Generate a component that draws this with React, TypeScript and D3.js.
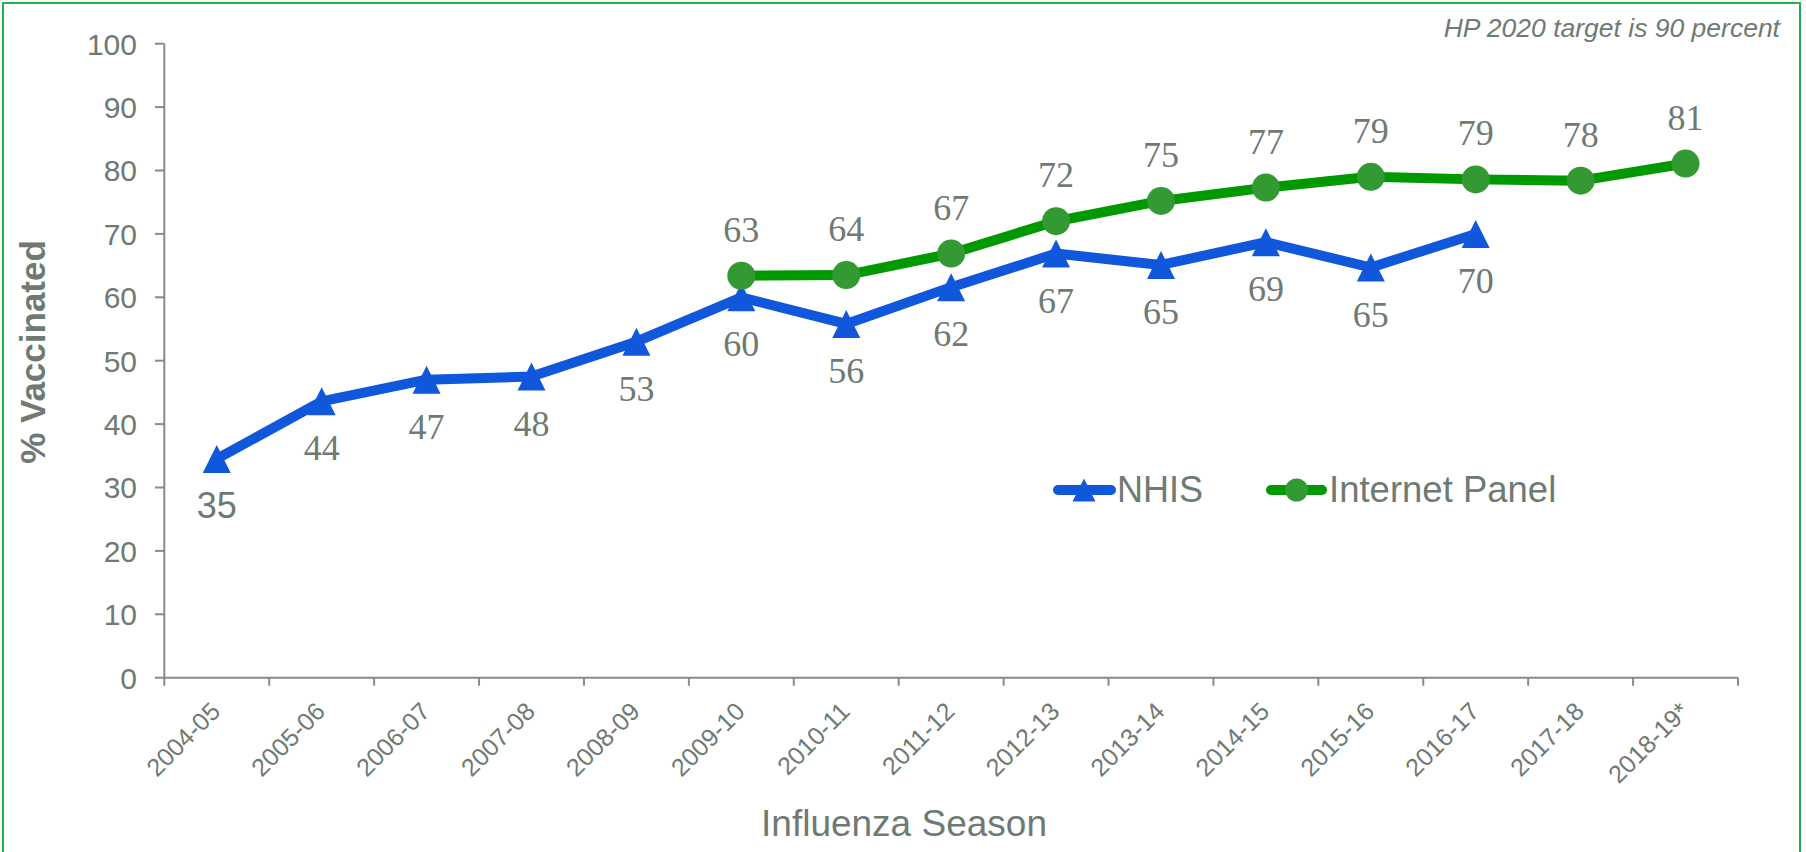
import React from "react";
import * as d3 from "d3";

const seasons = [
  "2004-05", "2005-06", "2006-07", "2007-08", "2008-09", "2009-10", "2010-11",
  "2011-12", "2012-13", "2013-14", "2014-15", "2015-16", "2016-17", "2017-18", "2018-19*",
];
const nhisValues: (number | null)[] = [
  34.5, 43.6, 47.0, 47.5, 53.0, 60.0, 55.8, 61.6, 66.9, 65.1, 68.7, 64.7, 70.0, null, null,
];
const internetValues: (number | null)[] = [
  null, null, null, null, null, 63.4, 63.5, 66.9, 72.0, 75.2, 77.3, 79.0, 78.6, 78.4, 81.1,
];
const yTicks = [0, 10, 20, 30, 40, 50, 60, 70, 80, 90, 100];
const seriesNames = ["NHIS", "Internet Panel"];
const noteText = "HP 2020 target is 90 percent";
const xTitle = "Influenza Season";
const yTitle = "% Vaccinated";

const W = 1806;
const H = 852;
const TEXT = "#6e7a72";
const AXIS = "#858c86";
const BLUE = "#1157db";
const GREEN_LINE = "#009900";
const GREEN_DOT = "#339933";
const SANS = "'Liberation Sans', Arial, sans-serif";
const SERIF = "'Liberation Serif', 'Times New Roman', serif";

function tri(cx: number, cy: number, s: number) {
  const h = s / 2;
  return `M${cx},${cy - h}L${cx + h},${cy + h}L${cx - h},${cy + h}Z`;
}

export default function App() {
  const x = d3.scaleBand<string>().domain(seasons).range([164.3, 1738]).paddingInner(0).paddingOuter(0);
  const y = d3.scaleLinear().domain([0, 100]).range([677.7, 43.7]);
  const cx = (s: string) => (x(s) as number) + x.bandwidth() / 2;

  const nhisPts = seasons
    .map((s, i) => ({ s, v: nhisValues[i] }))
    .filter((d) => d.v !== null) as { s: string; v: number }[];
  const netPts = seasons
    .map((s, i) => ({ s, v: internetValues[i] }))
    .filter((d) => d.v !== null) as { s: string; v: number }[];

  const line = d3
    .line<{ s: string; v: number }>()
    .x((d) => cx(d.s))
    .y((d) => y(d.v));

  const boundaries = d3.range(seasons.length + 1).map((i) => 164.3 + i * x.bandwidth());

  return (
    <svg
      width={W}
      height={H}
      style={{ position: "absolute", left: 0, top: 0, background: "#fff" }}
    >
      <rect x={3} y={3} width={1797} height={860} fill="#fff" stroke="#22b14c" strokeWidth={2} />

      {/* note */}
      <text x={1780} y={37} textAnchor="end" fontFamily={SANS} fontStyle="italic" fontSize={26.5} fill={TEXT}>
        {noteText}
      </text>

      {/* y axis */}
      <line x1={164.3} x2={164.3} y1={y(100)} y2={y(0)} stroke={AXIS} strokeWidth={2} />
      {yTicks.map((t) => (
        <g key={t}>
          <line x1={155} x2={164.3} y1={y(t)} y2={y(t)} stroke={AXIS} strokeWidth={2} />
          <text x={137} y={y(t)} dy="0.36em" textAnchor="end" fontFamily={SANS} fontSize={30} fill={TEXT}>
            {t}
          </text>
        </g>
      ))}

      {/* x axis */}
      <line x1={164.3} x2={1738} y1={y(0)} y2={y(0)} stroke={AXIS} strokeWidth={2} />
      {boundaries.map((b, i) => (
        <line key={i} x1={b} x2={b} y1={y(0)} y2={y(0) + 8} stroke={AXIS} strokeWidth={2} />
      ))}
      {seasons.map((s) => (
        <text
          key={s}
          transform={`translate(${cx(s) + 5},${713}) rotate(-45)`}
          textAnchor="end"
          fontFamily={SANS}
          fontSize={25}
          fill={TEXT}
        >
          {s}
        </text>
      ))}

      {/* axis titles */}
      <text x={904} y={836} textAnchor="middle" fontFamily={SANS} fontSize={37} fill={TEXT}>
        {xTitle}
      </text>
      <text
        transform={`translate(45,352) rotate(-90)`}
        textAnchor="middle"
        fontFamily={SANS}
        fontWeight="bold"
        fontSize={35}
        fill={TEXT}
      >
        {yTitle}
      </text>

      {/* NHIS series */}
      <path d={line(nhisPts) || ""} fill="none" stroke={BLUE} strokeWidth={10} strokeLinejoin="round" />
      {nhisPts.map((d) => (
        <path key={d.s} d={tri(cx(d.s), y(d.v), 28)} fill={BLUE} />
      ))}
      {nhisPts.map((d, i) => (
        <text
          key={d.s}
          x={cx(d.s)}
          y={y(d.v) + 59}
          textAnchor="middle"
          fontFamily={i === 0 ? SANS : SERIF}
          fontSize={36}
          fill={TEXT}
        >
          {Math.round(d.v)}
        </text>
      ))}

      {/* Internet panel series */}
      <path d={line(netPts) || ""} fill="none" stroke={GREEN_LINE} strokeWidth={10} strokeLinejoin="round" />
      {netPts.map((d) => (
        <circle key={d.s} cx={cx(d.s)} cy={y(d.v)} r={14} fill={GREEN_DOT} />
      ))}
      {netPts.map((d) => (
        <text
          key={d.s}
          x={cx(d.s)}
          y={y(d.v) - 34}
          textAnchor="middle"
          fontFamily={SERIF}
          fontSize={36}
          fill={TEXT}
        >
          {Math.round(d.v)}
        </text>
      ))}

      {/* legend */}
      <line x1={1058} x2={1111} y1={490} y2={490} stroke={BLUE} strokeWidth={10} strokeLinecap="round" />
      <path d={tri(1084, 490, 23)} fill={BLUE} />
      <text x={1117} y={502} fontFamily={SANS} fontSize={36} fill={TEXT}>
        {seriesNames[0]}
      </text>
      <line x1={1271} x2={1322} y1={490} y2={490} stroke={GREEN_LINE} strokeWidth={10} strokeLinecap="round" />
      <circle cx={1296.6} cy={490} r={11.5} fill={GREEN_DOT} />
      <text x={1329} y={502} fontFamily={SANS} fontSize={36.5} fill={TEXT}>
        {seriesNames[1]}
      </text>
    </svg>
  );
}
